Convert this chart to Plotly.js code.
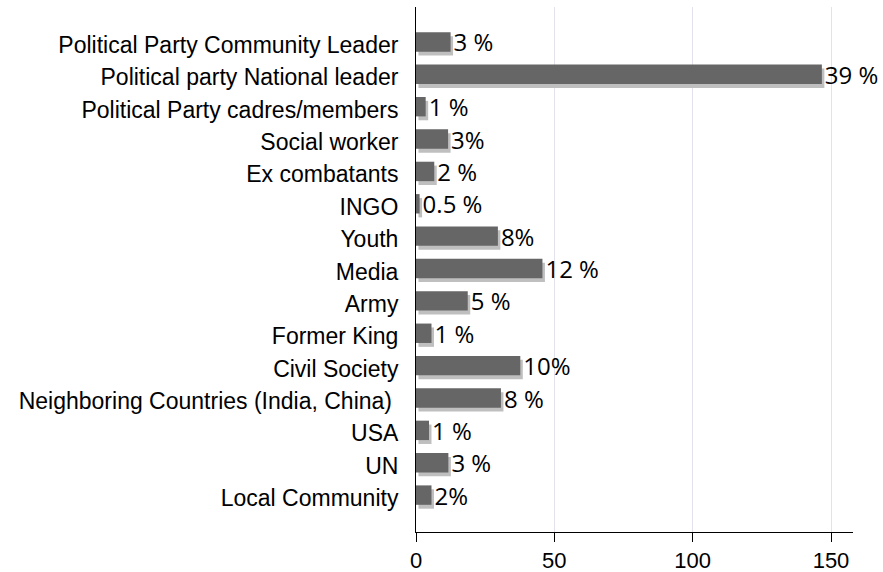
<!DOCTYPE html>
<html>
<head>
<meta charset="utf-8">
<script src="https://cdn.plot.ly/plotly-3.0.1.min.js"></script>
<style>html,body{margin:0;padding:0;background:#fff;}#chart{width:883px;height:572px;}</style>
</head>
<body>
<div id="chart"></div>
<script>
// Categories, top to bottom as drawn
const categories = [
  "Political Party Community Leader",
  "Political party National leader",
  "Political Party cadres/members",
  "Social worker",
  "Ex combatants",
  "INGO",
  "Youth",
  "Media",
  "Army",
  "Former King",
  "Civil Society",
  "Neighboring Countries (India, China)\u00a0",
  "USA",
  "UN",
  "Local Community"
];
// Bar values
const values = [12.5, 146.7, 3.5, 11.6, 6.6, 1.3, 29.6, 45.7, 18.7, 5.6, 37.7, 30.7, 4.7, 11.7, 5.6];
// Percentage labels shown at bar ends
const labels = ["3 %", "39 %", "1 %", "3%", "2 %", "0.5 %", "8%", "12 %", "5 %", "1 %", "10%", "8 %", "1 %", "3 %", "2%"];
const xTicks = [0, 50, 100, 150];

const barWidth = 0.6;
const shadowDx = 0.9;   // shadow shift along value axis (units)
const shadowDy = 0.12;  // shadow shift along category axis (units)

const shadow = {
  type: 'bar', orientation: 'h',
  y: categories, x: values, base: shadowDx,
  width: barWidth, offset: -barWidth / 2 + shadowDy,
  marker: {color: '#bfbfbf', line: {width: 0}},
  hoverinfo: 'skip', showlegend: false
};
const bars = {
  type: 'bar', orientation: 'h',
  y: categories, x: values,
  width: barWidth,
  marker: {color: '#666666', line: {width: 0}},
  text: labels, textposition: 'outside', constraintext: 'none', cliponaxis: false,
  textfont: {family: '"Open Sans", sans-serif', size: 24, color: '#000'},
  showlegend: false
};

const layout = {
  width: 883, height: 572,
  margin: {l: 416, r: 30, t: 7, b: 40, pad: 0},
  paper_bgcolor: '#fff', plot_bgcolor: '#fff',
  barmode: 'overlay',
  font: {family: '"Liberation Sans", Arial, sans-serif', color: '#000'},
  xaxis: {
    range: [0, 157.95], tickvals: xTicks, ticktext: xTicks.map(String),
    showgrid: true, gridcolor: '#e2e2ee', gridwidth: 1,
    zeroline: false, showline: true, linecolor: '#000', linewidth: 1,
    ticks: 'outside', ticklen: 9, tickcolor: '#000', tickwidth: 1,
    tickfont: {size: 22, family: '"Liberation Sans", Arial, sans-serif', color: '#000'},
    fixedrange: true
  },
  yaxis: {
    type: 'category', categoryorder: 'array', categoryarray: categories,
    range: [15.14, -1.08],
    showgrid: false, zeroline: false, showline: true, linecolor: '#000', linewidth: 1,
    ticks: '', ticklabelstandoff: 12, ticklabelshift: -3,
    tickfont: {size: 23, family: '"Liberation Sans", Arial, sans-serif', color: '#000'},
    fixedrange: true
  }
};

Plotly.newPlot('chart', [shadow, bars], layout, {displayModeBar: false, staticPlot: true});
</script>
</body>
</html>
